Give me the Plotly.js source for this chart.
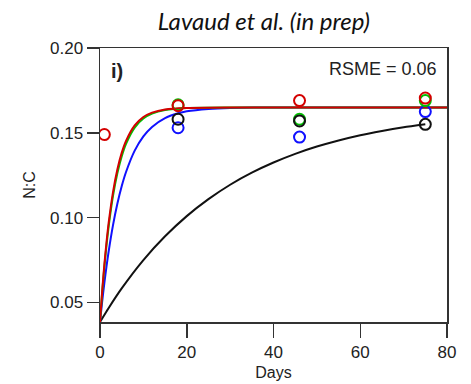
<!DOCTYPE html>
<html>
<head>
<meta charset="utf-8">
<script src="https://cdn.plot.ly/plotly-3.0.1.min.js"></script>
<style>html,body{margin:0;padding:0;background:#fff;}</style>
</head>
<body>
<div id="chart" style="width:471px;height:384px;"></div>
<script>
// Observed points (days, N:C)
const obsDays = [1, 18, 46, 75];
const obsRed   = [0.149, 0.166, 0.169, 0.1705];
const obsGreen = [null, 0.1665, 0.158, 0.169];
const obsBlue  = [null, 0.153, 0.1475, 0.1625];
const obsBlack = [null, 0.158, 0.157, 0.155];

// Model curves
const curveDaysFast = [0, 0.5, 1, 1.5, 2, 3, 4, 5, 6, 8, 10, 12, 15, 20, 30, 80];
const curveRed   = [0.0385, 0.0567, 0.0722, 0.0855, 0.0970, 0.1151, 0.1284, 0.1382, 0.1453, 0.1544, 0.1593, 0.1619, 0.1638, 0.1647, 0.165, 0.165];
const curveGreen = [0.0385, 0.0558, 0.0708, 0.0837, 0.0949, 0.1128, 0.1261, 0.1361, 0.1435, 0.1531, 0.1584, 0.1613, 0.1635, 0.1647, 0.165, 0.165];
const curveDaysBlue = [0, 0.5, 1, 1.5, 2, 3, 4, 5, 6, 8, 10, 12, 15, 18, 20, 25, 30, 40, 80];
const curveBlue  = [0.0385, 0.0505, 0.0614, 0.0713, 0.0802, 0.0956, 0.1082, 0.1185, 0.1269, 0.1395, 0.1479, 0.1535, 0.1587, 0.1615, 0.1627, 0.1641, 0.1647, 0.165, 0.165];
const curveDaysBlack = [0, 2, 5, 10, 15, 20, 25, 30, 35, 40, 45, 50, 55, 60, 65, 70, 75];
const curveBlack = [0.0385, 0.0468, 0.0583, 0.0750, 0.0890, 0.1009, 0.1109, 0.1194, 0.1265, 0.1325, 0.1376, 0.1419, 0.1455, 0.1486, 0.1511, 0.1533, 0.1551];

const xTicks = [0, 20, 40, 60, 80];
const yTicks = [0.05, 0.10, 0.15, 0.20];

const RED = '#d40000', GREEN = '#00c000', BLUE = '#1010ff', BLACK = '#111111';

function line(x, y, c) {
  return {x: x, y: y, mode: 'lines', line: {color: c, width: 2, shape: 'spline', smoothing: 0.6}, hoverinfo: 'skip'};
}
function pts(x, y, c) {
  return {x: x, y: y, mode: 'markers', marker: {symbol: 'circle-open', size: 11, color: c, line: {color: c, width: 2}}};
}

const traces = [
  line(curveDaysBlack, curveBlack, BLACK),
  line(curveDaysBlue, curveBlue, BLUE),
  line(curveDaysFast, curveGreen, GREEN),
  line(curveDaysFast, curveRed, RED),
  pts(obsDays, obsBlue, BLUE),
  pts(obsDays, obsGreen, GREEN),
  pts(obsDays, obsBlack, BLACK),
  pts(obsDays, obsRed, RED)
];

const axisFont = {family: 'Liberation Sans, Arial, sans-serif', size: 17, color: '#222'};

const layout = {
  width: 471, height: 384,
  margin: {l: 100, r: 24, t: 48, b: 62},
  paper_bgcolor: '#fff', plot_bgcolor: '#fff',
  showlegend: false,
  title: {
    text: '<i>Lavaud et al. (in prep)</i>',
    font: {family: 'Lato, Carlito, sans-serif', size: 24, color: '#111'},
    x: 0.56, xref: 'container', xanchor: 'center',
    y: 0.945, yref: 'container', yanchor: 'middle'
  },
  xaxis: {
    range: [0, 80], tickvals: xTicks, ticktext: xTicks.map(String),
    showgrid: false, zeroline: false,
    showline: true, mirror: true, linecolor: '#333', linewidth: 1.5,
    ticks: 'outside', ticklen: 14, tickwidth: 1.5, tickcolor: '#333',
    tickfont: axisFont,
    title: {text: 'Days', font: {family: 'Liberation Sans, Arial, sans-serif', size: 16, color: '#222'}, standoff: 6}
  },
  yaxis: {
    range: [0.0385, 0.2], tickvals: yTicks, ticktext: yTicks.map(v => v.toFixed(2)),
    showgrid: false, zeroline: false,
    showline: true, mirror: true, linecolor: '#333', linewidth: 1.5,
    ticks: 'outside', ticklen: 12, tickwidth: 1.5, tickcolor: '#333',
    tickfont: axisFont,
    title: {text: 'N:C', font: {family: 'Liberation Sans, Arial, sans-serif', size: 16, color: '#222'}, standoff: 10}
  },
  annotations: [
    {text: '<b>i)</b>', xref: 'paper', yref: 'paper', x: 0.025, y: 0.915, xanchor: 'left', yanchor: 'middle',
     showarrow: false, font: {family: 'Liberation Sans, Arial, sans-serif', size: 20, color: '#222'}},
    {text: 'RSME = 0.06', xref: 'paper', yref: 'paper', x: 0.978, y: 0.925, xanchor: 'right', yanchor: 'middle',
     showarrow: false, font: {family: 'Liberation Sans, Arial, sans-serif', size: 18, color: '#222'}}
  ]
};

Plotly.newPlot('chart', traces, layout, {displayModeBar: false, staticPlot: true});
</script>
</body>
</html>
